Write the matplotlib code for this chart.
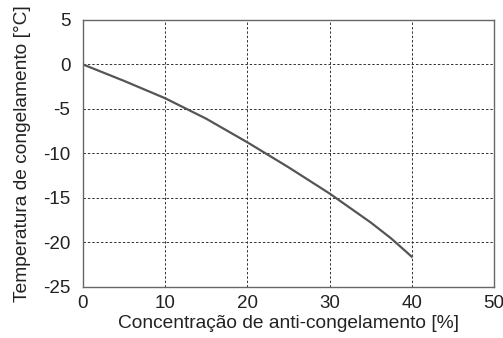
import matplotlib
matplotlib.use("Agg")
import matplotlib.pyplot as plt

concentration = [0, 5, 10, 15, 20, 25, 30, 35, 37.5, 40]
freeze_temp = [0, -1.85, -3.8, -6.1, -8.75, -11.55, -14.5, -17.75, -19.55, -21.6]
x_ticks = [0, 10, 20, 30, 40, 50]
y_ticks = [-25, -20, -15, -10, -5, 0, 5]

plt.rcParams['font.family'] = ['Liberation Sans', 'DejaVu Sans']
plt.rcParams['axes.unicode_minus'] = False
fig = plt.figure(figsize=(5.03, 3.38), dpi=100)
ax = fig.add_axes([0.165, 0.151, 0.817, 0.790])
ax.plot(concentration, freeze_temp, color='#555555', lw=1.6)
ax.set_xlim(0, 50)
ax.set_ylim(-25, 5)
ax.set_xticks(x_ticks)
ax.set_yticks(y_ticks)
ax.grid(True, color='#333333', linestyle=(0, (2.5, 2)), lw=0.7)
ax.tick_params(axis='y', length=0, labelsize=13.5, pad=9, colors='#222222')
ax.tick_params(axis='x', length=0, labelsize=13.5, pad=6, colors='#222222')
for s in ax.spines.values():
    s.set_color('#666666')
    s.set_linewidth(1.0)
ax.set_xlabel('Concentração de anti-congelamento [%]', fontsize=13.8, color='#222222', labelpad=2)
ax.set_ylabel('Temperatura de congelamento [°C]', fontsize=13.8, color='#222222', labelpad=9)
fig.savefig('out.png', dpi=100)
